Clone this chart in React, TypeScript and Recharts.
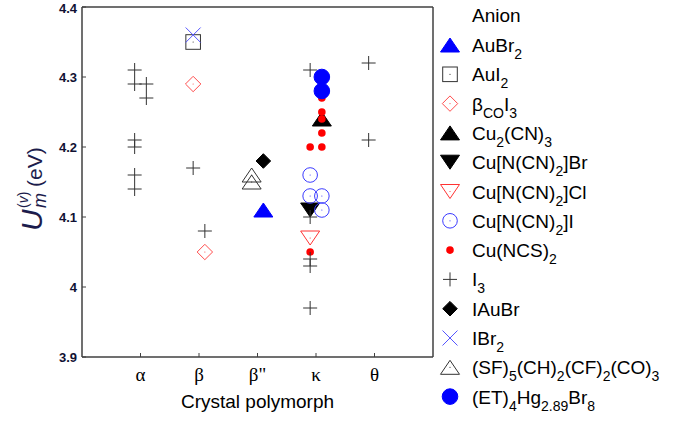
import { Label, Scatter, ScatterChart, XAxis, YAxis } from "recharts";

// crystal polymorph categories, placed at x = 1..5
const CATEGORIES = ["α", "β", 'β"', "κ", "θ"];
const CATEGORY_POS = [1, 2, 3, 4, 5];
const Y_TICKS = [3.9, 4, 4.1, 4.2, 4.3, 4.4];

// U_m^(v) values (eV) per anion; x is category position with a small offset
const AUBR2 = [{ x: 3.1, y: 4.11 }];
const AUI2 = [{ x: 1.9, y: 4.35 }];
const BCO_I3 = [
  { x: 1.9, y: 4.29 },
  { x: 2.1, y: 4.05 },
];
const CU2CN3 = [{ x: 4.1, y: 4.24 }];
const CUNCN2_BR = [{ x: 3.9, y: 4.11 }];
const CUNCN2_CL = [{ x: 3.9, y: 4.07 }];
const CUNCN2_I = [
  { x: 3.9, y: 4.16 },
  { x: 3.9, y: 4.13 },
  { x: 4.1, y: 4.13 },
  { x: 4.1, y: 4.11 },
];
const CUNCS2 = [
  { x: 4.1, y: 4.27 },
  { x: 4.1, y: 4.25 },
  { x: 4.1, y: 4.24 },
  { x: 4.1, y: 4.22 },
  { x: 3.9, y: 4.2 },
  { x: 4.1, y: 4.2 },
  { x: 3.9, y: 4.05 },
];
const I3 = [
  { x: 0.9, y: 4.31 },
  { x: 0.9, y: 4.29 },
  { x: 1.1, y: 4.29 },
  { x: 1.1, y: 4.27 },
  { x: 0.9, y: 4.21 },
  { x: 0.9, y: 4.2 },
  { x: 0.9, y: 4.16 },
  { x: 0.9, y: 4.14 },
  { x: 1.9, y: 4.17 },
  { x: 2.1, y: 4.08 },
  { x: 3.9, y: 4.31 },
  { x: 3.9, y: 4.1 },
  { x: 3.9, y: 4.04 },
  { x: 3.9, y: 4.03 },
  { x: 3.9, y: 3.97 },
  { x: 4.9, y: 4.32 },
  { x: 4.9, y: 4.21 },
];
const IAUBR = [{ x: 3.1, y: 4.18 }];
const IBR2 = [{ x: 1.9, y: 4.36 }];
const SF_ANION = [
  { x: 2.9, y: 4.16 },
  { x: 2.9, y: 4.15 },
];
const ET_HG = [
  { x: 4.1, y: 4.3 },
  { x: 4.1, y: 4.28 },
];

type Kind = "triUp" | "triDown" | "square" | "diamond" | "circle" | "dot" | "plus" | "cross";
type Seg = [string, ("sub" | undefined)?];

const SERIES: { name: string; label: Seg[]; data: { x: number; y: number }[]; kind: Kind; color: string; filled: boolean }[] = [
  { name: "AuBr2", label: [["AuBr"], ["2", "sub"]], data: AUBR2, kind: "triUp", color: "#0000ff", filled: true },
  { name: "AuI2", label: [["AuI"], ["2", "sub"]], data: AUI2, kind: "square", color: "#333", filled: false },
  { name: "bCOI3", label: [["β"], ["CO", "sub"], ["I"], ["3", "sub"]], data: BCO_I3, kind: "diamond", color: "#ff4d4d", filled: false },
  { name: "Cu2(CN)3", label: [["Cu"], ["2", "sub"], ["(CN)"], ["3", "sub"]], data: CU2CN3, kind: "triUp", color: "#000", filled: true },
  { name: "CuBr", label: [["Cu[N(CN)"], ["2", "sub"], ["]Br"]], data: CUNCN2_BR, kind: "triDown", color: "#000", filled: true },
  { name: "CuCl", label: [["Cu[N(CN)"], ["2", "sub"], ["]Cl"]], data: CUNCN2_CL, kind: "triDown", color: "#ff3333", filled: false },
  { name: "CuI", label: [["Cu[N(CN)"], ["2", "sub"], ["]I"]], data: CUNCN2_I, kind: "circle", color: "#3b3bff", filled: false },
  { name: "Cu(NCS)2", label: [["Cu(NCS)"], ["2", "sub"]], data: CUNCS2, kind: "dot", color: "#ff0000", filled: true },
  { name: "I3", label: [["I"], ["3", "sub"]], data: I3, kind: "plus", color: "#333", filled: false },
  { name: "IAuBr", label: [["IAuBr"]], data: IAUBR, kind: "diamond", color: "#000", filled: true },
  { name: "IBr2", label: [["IBr"], ["2", "sub"]], data: IBR2, kind: "cross", color: "#5555ff", filled: false },
  { name: "SF", label: [["(SF)"], ["5", "sub"], ["(CH)"], ["2", "sub"], ["(CF)"], ["2", "sub"], ["(CO)"], ["3", "sub"]], data: SF_ANION, kind: "triUp", color: "#333", filled: false },
  { name: "ET", label: [["(ET)"], ["4", "sub"], ["Hg"], ["2.89", "sub"], ["Br"], ["8", "sub"]], data: ET_HG, kind: "circle", color: "#0000ff", filled: true },
];

const AXIS_COLOR = "#404040";
const SANS = "'Liberation Sans', Arial, sans-serif";

function Marker({ kind, color, filled, cx, cy }: { kind: Kind; color: string; filled: boolean; cx: number; cy: number }) {
  const fill = filled ? color : "none";
  const dot = filled ? null : <circle cx={cx} cy={cy} r={0.6} fill={color} />;
  switch (kind) {
    case "triUp":
      return (
        <g>
          <polygon points={`${cx},${cy - 7} ${cx - 9.5},${cy + 7} ${cx + 9.5},${cy + 7}`} fill={fill} stroke={color} />
          {dot}
        </g>
      );
    case "triDown":
      return (
        <g>
          <polygon points={`${cx},${cy + 7} ${cx - 9.5},${cy - 7} ${cx + 9.5},${cy - 7}`} fill={fill} stroke={color} />
          {dot}
        </g>
      );
    case "square":
      return (
        <g>
          <rect x={cx - 7.3} y={cy - 7.3} width={14.6} height={14.6} fill={fill} stroke={color} />
          {dot}
        </g>
      );
    case "diamond": {
      const r = filled ? 7.3 : 7.7;
      return (
        <g>
          <polygon points={`${cx},${cy - r} ${cx + r},${cy} ${cx},${cy + r} ${cx - r},${cy}`} fill={fill} stroke={color} />
          {dot}
        </g>
      );
    }
    case "circle":
      return (
        <g>
          <circle cx={cx} cy={cy} r={filled ? 7.8 : 7.3} fill={fill} stroke={color} />
          {dot}
        </g>
      );
    case "dot":
      return <circle cx={cx} cy={cy} r={3.8} fill={color} />;
    case "plus":
      return <path d={`M${cx - 7},${cy}H${cx + 7}M${cx},${cy - 7}V${cy + 7}`} stroke={color} fill="none" />;
    case "cross":
      return <path d={`M${cx - 7.5},${cy - 7.5}L${cx + 7.5},${cy + 7.5}M${cx - 7.5},${cy + 7.5}L${cx + 7.5},${cy - 7.5}`} stroke={color} fill="none" />;
  }
  return null;
}

function RichText({ segs, x, y, size }: { segs: Seg[]; x: number; y: number; size: number }) {
  let shifted = false;
  return (
    <text x={x} y={y} fontFamily={SANS} fontSize={size} fill="#000">
      {segs.map(([t, kind], i) => {
        let dy = 0;
        if (kind === "sub" && !shifted) {
          dy = 7;
          shifted = true;
        } else if (!kind && shifted) {
          dy = -7;
          shifted = false;
        }
        return (
          <tspan key={i} dy={dy} fontSize={kind === "sub" ? 14 : size}>
            {t}
          </tspan>
        );
      })}
    </text>
  );
}

function Overlay() {
  return (
    <svg width={695} height={424} style={{ position: "absolute", left: 0, top: 0, pointerEvents: "none" }}>
      {/* y-axis label */}
      <g transform="translate(42,188) rotate(-90)" fill="#1c1c4c" fontFamily={SANS}>
        <text x={-43} y={0} fontSize={30} fontStyle="italic">U</text>
        <text x={-20} y={4} fontSize={18} fontStyle="italic">m</text>
        <text x={-20} y={-14} fontSize={14}>
          (<tspan fontStyle="italic">v</tspan>)
        </text>
        <text x={1} y={0} fontSize={21}>(eV)</text>
      </g>
      {/* legend */}
      <RichText segs={[["Anion"]]} x={472} y={22} size={19} />
      {SERIES.map((s, i) => {
        const cy = 45 + i * 29.3;
        return (
          <g key={s.name}>
            <Marker kind={s.kind} color={s.color} filled={s.filled} cx={450} cy={cy} />
            <RichText segs={s.label} x={472} y={cy + 7} size={19} />
          </g>
        );
      })}
    </svg>
  );
}

export default function App() {
  return (
    <div style={{ position: "absolute", left: 0, top: 0, width: 695, height: 424, background: "#fff" }}>
      <ScatterChart width={695} height={424} margin={{ top: 6, right: 261, bottom: 0, left: 0 }}>
        <XAxis
          xAxisId="b"
          type="number"
          dataKey="x"
          orientation="bottom"
          domain={[0, 6]}
          ticks={CATEGORY_POS}
          allowDataOverflow
          tickFormatter={(v: number) => CATEGORIES[v - 1]}
          height={67}
          tickSize={-4}
          tickMargin={14.5}
          axisLine={{ stroke: AXIS_COLOR, strokeWidth: 1.5 }}
          tickLine={{ stroke: AXIS_COLOR }}
          tick={{ fontFamily: "'Liberation Serif', 'Times New Roman', serif", fontSize: 19, fill: "#000" }}
        >
          <Label value="Crystal polymorph" position="insideBottom" offset={16} fontFamily={SANS} fontSize={19} fill="#000" />
        </XAxis>
        <XAxis
          xAxisId="t"
          type="number"
          dataKey="x"
          orientation="top"
          domain={[0, 6]}
          ticks={CATEGORY_POS}
          allowDataOverflow
          height={1}
          tickSize={-4}
          tick={false}
          axisLine={{ stroke: AXIS_COLOR, strokeWidth: 1.5 }}
          tickLine={{ stroke: AXIS_COLOR }}
        />
        <YAxis
          yAxisId="l"
          type="number"
          dataKey="y"
          domain={[3.9, 4.4]}
          ticks={Y_TICKS}
          allowDataOverflow
          width={82}
          tickSize={-4}
          tickMargin={9}
          axisLine={{ stroke: AXIS_COLOR, strokeWidth: 1.5 }}
          tickLine={{ stroke: AXIS_COLOR }}
          tick={{ fontFamily: SANS, fontSize: 13, fontWeight: "bold", fill: "#111133" }}
        />
        <YAxis
          yAxisId="r"
          type="number"
          dataKey="y"
          orientation="right"
          domain={[3.9, 4.4]}
          ticks={Y_TICKS}
          allowDataOverflow
          width={1}
          tickSize={-4}
          tick={false}
          axisLine={{ stroke: AXIS_COLOR, strokeWidth: 1.5 }}
          tickLine={{ stroke: AXIS_COLOR }}
        />
        {SERIES.map((s) => (
          <Scatter
            key={s.name}
            name={s.name}
            data={s.data}
            xAxisId="b"
            yAxisId="l"
            isAnimationActive={false}
            shape={(p: any) => <Marker kind={s.kind} color={s.color} filled={s.filled} cx={p.cx} cy={p.cy} />}
          />
        ))}
      </ScatterChart>
      <Overlay />
    </div>
  );
}
